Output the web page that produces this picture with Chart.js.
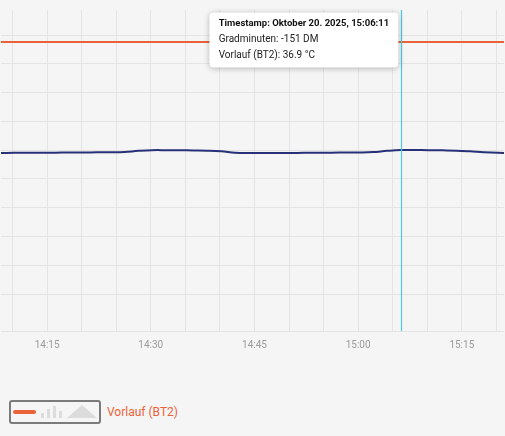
<!DOCTYPE html>
<html>
<head>
<meta charset="utf-8">
<script src="https://cdn.jsdelivr.net/npm/chart.js@4.4.0/dist/chart.umd.min.js"></script>
<style>
  html, body { margin: 0; padding: 0; background: #f5f5f5; width: 505px; height: 436px; overflow: hidden; font-family: Roboto, sans-serif; }
  #wrap { position: absolute; left: 0; top: 0; width: 505px; height: 365px; }
  #legend { position: absolute; left: 9px; top: 400px; display: flex; align-items: center; }
  .lg-box { position: relative; width: 88px; height: 20px; border: 2px solid #7b7b7b; border-radius: 3px; }
  .lg-line { position: absolute; left: 2px; top: 8px; width: 23px; height: 4px; border-radius: 2px; background: #ec6238; }
  .lg-bar { position: absolute; bottom: 4px; width: 3px; background: #dcdcdc; }
  .lg-tri { position: absolute; left: 56px; top: 3px; width: 0; height: 0; border-left: 15px solid transparent; border-right: 15px solid transparent; border-bottom: 13px solid #dcdcdc; }
  .lg-text { margin-left: 6px; color: #ec6238; font-size: 12px; }
</style>
</head>
<body>
<div id="wrap"><canvas id="chart"></canvas></div>
<div id="legend">
  <div class="lg-box">
    <div class="lg-line"></div>
    <div class="lg-bar" style="left:30px;height:5px"></div>
    <div class="lg-bar" style="left:36px;height:9px"></div>
    <div class="lg-bar" style="left:42px;height:12px"></div>
    <div class="lg-bar" style="left:48px;height:7px"></div>
    <div class="lg-tri"></div>
  </div>
  <span class="lg-text">Vorlauf (BT2)</span>
</div>
<script>
// Sample times (HH:MM:SS), one reading every two minutes
const times = [
    '14:06:11', '14:08:11', '14:10:11', '14:12:11', '14:14:11', '14:16:11', '14:18:11', '14:20:11',
    '14:22:11', '14:24:11', '14:26:11', '14:28:11', '14:30:11', '14:32:11', '14:34:11', '14:36:11',
    '14:38:11', '14:40:11', '14:42:11', '14:44:11', '14:46:11', '14:48:11', '14:50:11', '14:52:11',
    '14:54:11', '14:56:11', '14:58:11', '15:00:11', '15:02:11', '15:04:11', '15:06:11', '15:08:11',
    '15:10:11', '15:12:11', '15:14:11', '15:16:11', '15:18:11', '15:20:11', '15:22:11'
];
const gradminuten = [
    -152.05, -152.05, -152.0, -151.96, -151.96, -151.93, -151.89, -151.86,
    -151.82, -151.79, -151.68, -151.29, -151.04, -151.04, -151.07, -151.14,
    -151.21, -151.43, -151.93, -152.07, -152.07, -152.04, -152.04, -152.0,
    -151.96, -151.93, -151.89, -151.86, -151.71, -151.29, -151.0, -151.0,
    -151.04, -151.11, -151.21, -151.46, -151.79, -152.0, -152.07
];
const vorlauf = [
    36.9, 36.9, 36.9, 36.9, 36.9, 36.9, 36.9, 36.9,
    36.9, 36.9, 36.9, 36.9, 36.9, 36.9, 36.9, 36.9,
    36.9, 36.9, 36.9, 36.9, 36.9, 36.9, 36.9, 36.9,
    36.9, 36.9, 36.9, 36.9, 36.9, 36.9, 36.9, 36.9,
    36.9, 36.9, 36.9, 36.9, 36.9, 36.9, 36.9
];
const xTicks = ['14:10', '14:15', '14:20', '14:25', '14:30', '14:35', '14:40', '14:45', '14:50',
    '14:55', '15:00', '15:05', '15:10', '15:15', '15:20'];
const activeTime = '15:06:11';

// time string -> minutes of the day
const toMin = s => {
    const p = s.split(':').map(Number);
    return p[0] * 60 + p[1] + (p[2] || 0) / 60;
};
const fmt = m => {
    const h = Math.floor(m / 60), mm = Math.round(m % 60);
    return h + ':' + String(mm).padStart(2, '0');
};

const minutes = times.map(toMin);
const gradData = minutes.map((x, i) => ({ x: x, y: gradminuten[i] }));
const vorlaufData = minutes.map((x, i) => ({ x: x, y: vorlauf[i] }));

Chart.defaults.font.family = 'Roboto, sans-serif';

Chart.Tooltip.positioners.fixedTop = function (elements) {
    if (!elements.length) return false;
    return { x: elements[0].element.x, y: 40 };
};

// white card with a soft shadow under the tooltip
const tooltipShadow = {
    id: 'tooltipShadow',
    beforeTooltipDraw(chart, args) {
        const tt = args.tooltip;
        if (!tt.opacity) return;
        const c = chart.ctx;
        c.save();
        c.shadowColor = 'rgba(0, 0, 0, 0.28)';
        c.shadowBlur = 6;
        c.shadowOffsetY = 1;
        c.fillStyle = '#ffffff';
        c.beginPath();
        c.roundRect(tt.x, tt.y, tt.width, tt.height, 4);
        c.fill();
        c.restore();
    }
};

// vertical cursor line at the active point
const cursorLine = {
    id: 'cursorLine',
    afterDatasetsDraw(chart) {
        const act = chart.getActiveElements();
        if (!act.length) return;
        const x = Math.round(act[0].element.x) + 0.5;
        const { top, bottom } = chart.chartArea;
        const c = chart.ctx;
        c.save();
        c.globalAlpha = 1;
        c.setLineDash([]);
        c.strokeStyle = 'rgb(72, 204, 222)';
        c.lineWidth = 1.2;
        c.beginPath();
        c.moveTo(x, top);
        c.lineTo(x, bottom);
        c.stroke();
        c.restore();
    }
};

const ctx = document.getElementById('chart').getContext('2d');
const chart = new Chart(ctx, {
    type: 'line',
    data: {
        datasets: [
            {
                label: 'Gradminuten',
                data: gradData,
                yAxisID: 'yDM',
                borderColor: '#283078',
                borderWidth: 2,
                pointRadius: 0,
                pointHoverRadius: 0,
                tension: 0.4,
                fill: false
            },
            {
                label: 'Vorlauf (BT2)',
                data: vorlaufData,
                yAxisID: 'yTemp',
                borderColor: '#ec6238',
                borderWidth: 2,
                pointRadius: 0,
                pointHoverRadius: 0,
                tension: 0.4,
                fill: false
            }
        ]
    },
    options: {
        responsive: true,
        maintainAspectRatio: false,
        animation: false,
        events: [],
        layout: { padding: { top: 10, bottom: 6, left: 0, right: 0 } },
        interaction: { mode: 'index', intersect: false },
        plugins: {
            legend: { display: false },
            tooltip: {
                animation: false,
                position: 'fixedTop',
                xAlign: 'right',
                yAlign: 'center',
                caretSize: 0,
                caretPadding: 3,
                displayColors: false,
                backgroundColor: '#ffffff',
                titleColor: '#111111',
                bodyColor: '#222222',
                titleFont: { size: 9.5, weight: 'bold' },
                bodyFont: { size: 10 },
                padding: { top: 5, bottom: 6, left: 9, right: 9 },
                titleMarginBottom: 4,
                bodySpacing: 4,
                cornerRadius: 4,
                callbacks: {
                    title: items => 'Timestamp: Oktober 20. 2025, ' + times[items[0].dataIndex],
                    label: item => item.datasetIndex === 0
                        ? 'Gradminuten: ' + Math.round(item.parsed.y) + ' DM'
                        : 'Vorlauf (BT2): ' + item.parsed.y.toFixed(1) + ' °C'
                }
            }
        },
        scales: {
            x: {
                type: 'linear',
                min: 848.33,
                max: 921.1,
                afterBuildTicks: axis => {
                    axis.ticks = xTicks.map(t => ({ value: toMin(t) }));
                },
                grid: { color: '#e4e4e4', drawTicks: false },
                border: { display: false },
                ticks: {
                    autoSkip: false,
                    maxRotation: 0,
                    padding: 8,
                    color: '#9a9a9a',
                    font: { size: 10 },
                    callback: v => (Math.round(v) % 15 === 0 ? fmt(v) : '')
                }
            },
            yGrid: {
                type: 'linear',
                position: 'left',
                min: -0.28,
                max: 10.87,
                grid: {
                    color: c => (c.tick && c.tick.value > 10.5 ? 'rgba(0,0,0,0)' : '#e4e4e4'),
                    drawTicks: false
                },
                border: { display: false },
                ticks: { display: false, stepSize: 1 }
            },
            yDM: {
                type: 'linear',
                display: false,
                min: -215.6,
                max: -101
            },
            yTemp: {
                type: 'linear',
                display: false,
                min: 0,
                max: 41
            }
        }
    },
    plugins: [tooltipShadow, cursorLine]
});

const idx = times.indexOf(activeTime);
const active = [{ datasetIndex: 0, index: idx }, { datasetIndex: 1, index: idx }];
chart.setActiveElements(active);
chart.tooltip.setActiveElements(active, { x: 0, y: 0 });
chart.update();
</script>
</body>
</html>
